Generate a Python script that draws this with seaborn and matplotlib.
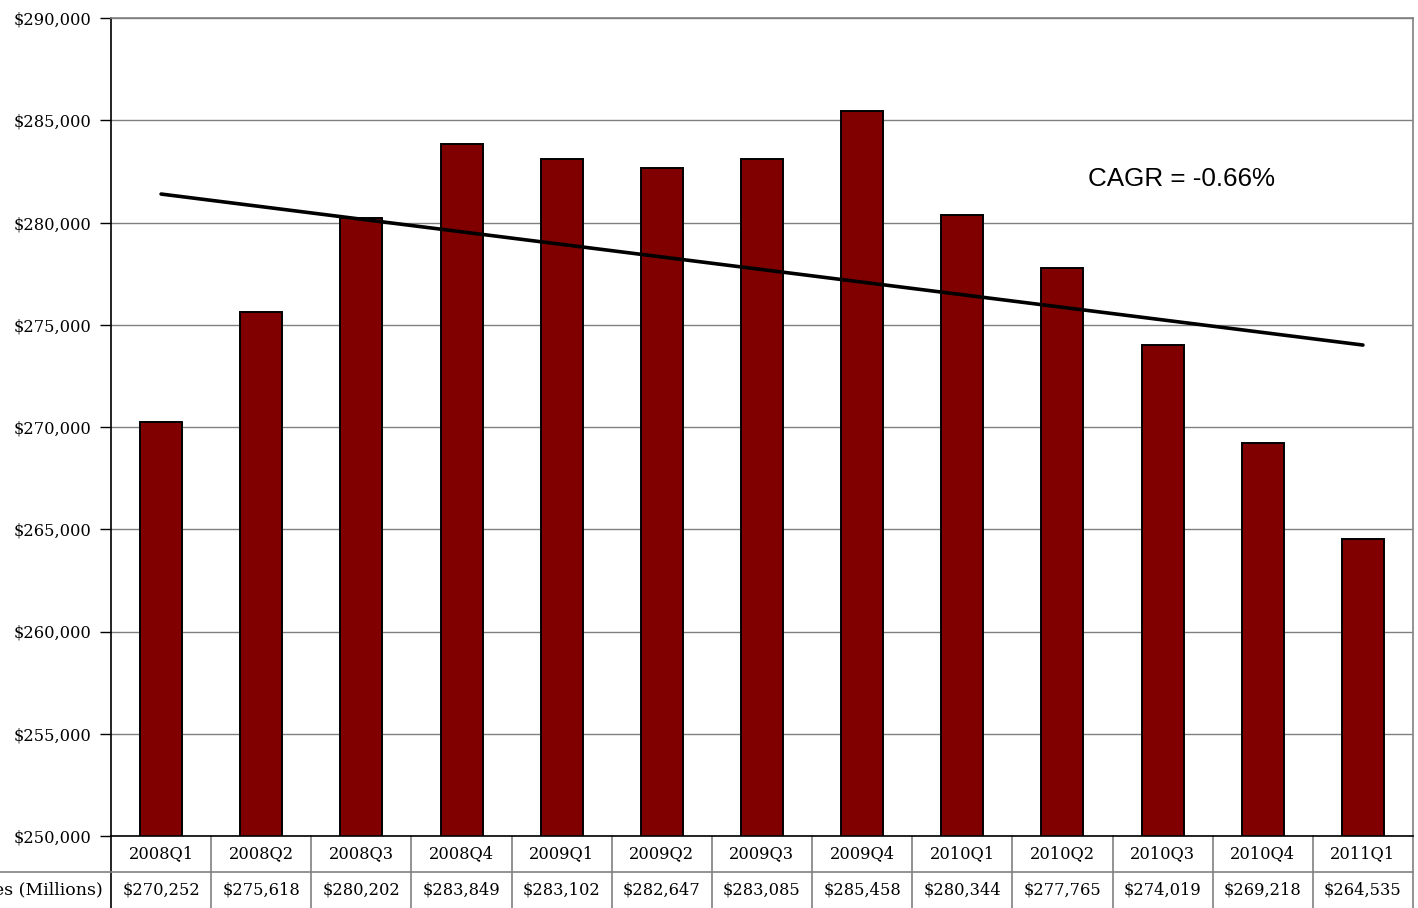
import numpy as np
import matplotlib
matplotlib.use("Agg")
import matplotlib.pyplot as plt
import matplotlib.ticker as mticker
import matplotlib.transforms as mtransforms
import seaborn as sns

# data
quarters = ["2008Q1", "2008Q2", "2008Q3", "2008Q4", "2009Q1", "2009Q2", "2009Q3",
            "2009Q4", "2010Q1", "2010Q2", "2010Q3", "2010Q4", "2011Q1"]
sales = [270252, 275618, 280202, 283849, 283102, 282647, 283085,
         285458, 280344, 277765, 274019, 269218, 264535]
row_label = "Sales (Millions)"
cagr_label = "CAGR = -0.66%"
y_ticks = list(range(250000, 290001, 5000))

sns.set_style("white")
plt.rcParams["font.family"] = ["DejaVu Serif"]
plt.rcParams["text.color"] = "black"
plt.rcParams["ytick.color"] = "black"
plt.rcParams["ytick.labelcolor"] = "black"

fig = plt.figure(figsize=(14.18, 9.08), dpi=100)
ax = fig.add_axes([111 / 1418, 1 - 836 / 908, 1302 / 1418, 818 / 908])

sns.barplot(x=quarters, y=sales, color="#800000", edgecolor="black",
            linewidth=1.4, width=0.42, saturation=1, ax=ax)

# linear trend line over the quarters
idx = np.arange(len(sales))
slope, intercept = np.polyfit(idx, sales, 1)
ax.plot(idx, slope * idx + intercept, color="black", lw=2.6, zorder=4)

ax.set_ylim(y_ticks[0], y_ticks[-1])
ax.set_xlim(-0.5, len(quarters) - 0.5)
ax.set_yticks(y_ticks)
ax.yaxis.set_major_formatter(mticker.FuncFormatter(lambda v, p: f"${v:,.0f}"))
ax.tick_params(axis="y", length=8, width=1, color="black", direction="out",
               labelsize=11.7, pad=6, left=True)
ax.set_xticks([])
ax.set_xlabel("")
ax.set_ylabel("")
ax.grid(axis="y", color="#808080", lw=1)
ax.set_axisbelow(True)

for side in ["top", "right"]:
    ax.spines[side].set_color("#808080")
    ax.spines[side].set_linewidth(1.2)
ax.spines["left"].set_color("black")
ax.spines["bottom"].set_color("black")
ax.spines["left"].set_linewidth(1.2)
ax.spines["bottom"].set_linewidth(1.2)

ax.text(9.25, 282150, cagr_label, family="Liberation Sans", fontsize=18.7,
        color="black", ha="left", va="center")

# data table under the axis
trans = mtransforms.blended_transform_factory(ax.transData, ax.transAxes)
row_h = 36 / 818
for i, (q, s) in enumerate(zip(quarters, sales)):
    ax.text(i, -row_h / 2, q, transform=trans, ha="center", va="center",
            fontsize=11.7, color="black")
    ax.text(i, -1.5 * row_h, f"${s:,}", transform=trans, ha="center", va="center",
            fontsize=11.7, color="black")
for b in np.arange(len(quarters) + 1) - 0.5:
    col = "black" if b == -0.5 else "#808080"
    ax.plot([b, b], [0, -2 * row_h], transform=trans, color=col, lw=1.2, clip_on=False)
ax.plot([-1.62, len(quarters) - 0.5], [-row_h, -row_h], transform=trans,
        color="#808080", lw=1.2, clip_on=False)
ax.text(-0.006, -1.5 * row_h, row_label, transform=ax.transAxes, ha="right",
        va="center", fontsize=12.5, color="black")

fig.savefig("out.png", dpi=100)
